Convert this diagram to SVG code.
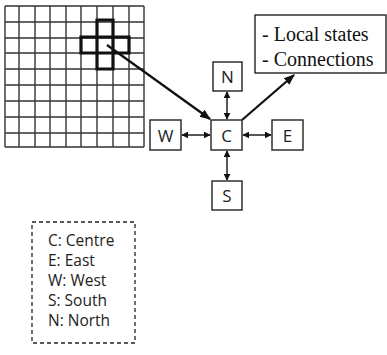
<svg xmlns="http://www.w3.org/2000/svg" width="387" height="355" viewBox="0 0 387 355">
<style>
.grid{stroke:#333;stroke-width:1.4;fill:none}
.box{fill:#fff;stroke:#222;stroke-width:1.4}
.lbl{font-family:"Open Sans","Liberation Sans",sans-serif;font-size:17px;fill:#222;text-anchor:middle}
.leg{font-family:"Open Sans","Liberation Sans",sans-serif;font-size:15.5px;fill:#222}
.ser{font-family:"Liberation Serif",serif;font-size:20px;fill:#111}
.conn{stroke:#111;stroke-width:1.4;fill:none}
.thick{stroke:#111;stroke-width:3.2;fill:none}
</style>
<defs>
<marker id="ah" viewBox="0 0 10 10" refX="9" refY="5" markerWidth="7" markerHeight="7" orient="auto-start-reverse" markerUnits="userSpaceOnUse">
<path d="M0,0 L10,5 L0,10 z" fill="#111"/>
</marker>
<marker id="ahb" viewBox="0 0 10 10" refX="9" refY="5" markerWidth="11" markerHeight="11" orient="auto" markerUnits="userSpaceOnUse">
<path d="M0,1 L10,5 L0,9 z" fill="#111"/>
</marker>
</defs>
<g id="grid">
<path class="grid" d="M5,6H144M5,22H144M5,38H144M5,53H144M5,69H144M5,85H144M5,101H144M5,117H144M5,133H144M5,147H144M5,6V147M19,6V147M35,6V147M50,6V147M66,6V147M81,6V147M97,6V147M113,6V147M129,6V147M144,6V147"/>
<path class="thick" d="M97,20H113V37H129V53H113V69H97V53H81V37H97Z M97,37V53 M113,37V53 M97,37H113 M97,53H113"/>
</g>
<g id="connectors">
<line x1="107" y1="45" x2="210" y2="119" stroke="#111" stroke-width="2.3" marker-end="url(#ahb)"/>
<line x1="242" y1="120" x2="294" y2="75" stroke="#111" stroke-width="2.3" marker-end="url(#ahb)"/>
<line class="conn" x1="227" y1="92" x2="227" y2="119" marker-start="url(#ah)" marker-end="url(#ah)"/>
<line class="conn" x1="182" y1="135" x2="210" y2="135" marker-start="url(#ah)" marker-end="url(#ah)"/>
<line class="conn" x1="243" y1="135" x2="271" y2="135" marker-start="url(#ah)" marker-end="url(#ah)"/>
<line class="conn" x1="227" y1="151" x2="227" y2="180" marker-start="url(#ah)" marker-end="url(#ah)"/>
</g>
<g id="N"><rect class="box" x="213" y="62" width="29" height="29"/><text class="lbl" x="227.5" y="83">N</text></g>
<g id="C"><rect class="box" x="211" y="120" width="31" height="30"/><text class="lbl" x="226.5" y="141.5">C</text></g>
<g id="W"><rect class="box" x="150" y="120" width="31" height="30"/><text class="lbl" x="165.5" y="141.5">W</text></g>
<g id="E"><rect class="box" x="272" y="120" width="31" height="30"/><text class="lbl" x="287.5" y="141.5">E</text></g>
<g id="S"><rect class="box" x="212" y="181" width="30" height="29"/><text class="lbl" x="227" y="202">S</text></g>
<g id="info"><rect class="box" x="255" y="15" width="131" height="58"/>
<text class="ser" x="262" y="41">- Local states</text>
<text class="ser" x="262" y="66">- Connections</text></g>
<g id="legend"><rect x="32" y="222" width="103" height="121" fill="#fff" stroke="#222" stroke-width="1.3" stroke-dasharray="4,3"/>
<text class="leg" x="48" y="246">C: Centre</text>
<text class="leg" x="48" y="266">E: East</text>
<text class="leg" x="48" y="286">W: West</text>
<text class="leg" x="48" y="306">S: South</text>
<text class="leg" x="48" y="326">N: North</text></g>
</svg>
